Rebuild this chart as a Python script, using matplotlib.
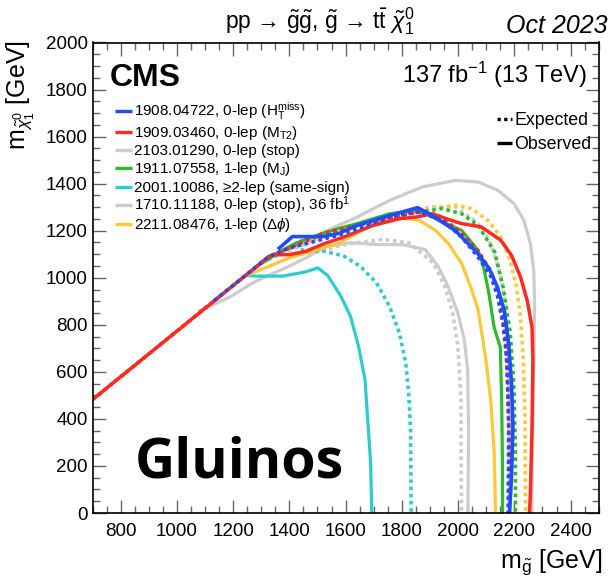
import matplotlib
matplotlib.use("Agg")
import matplotlib.pyplot as plt
from matplotlib.lines import Line2D
from matplotlib.ticker import MultipleLocator

plt.rcParams['font.family'] = ['Liberation Sans', 'DejaVu Sans']
plt.rcParams['mathtext.fontset'] = 'custom'
plt.rcParams['mathtext.rm'] = 'Liberation Sans'
plt.rcParams['mathtext.it'] = 'Liberation Sans:italic'
plt.rcParams['mathtext.bf'] = 'Liberation Sans:bold'
plt.rcParams['mathtext.sf'] = 'Liberation Sans'

# ---------------- data (m_gluino, m_LSP) in GeV ----------------
red_obs_x = [700, 1328, 1352, 1399, 1458, 1524, 1594, 1699, 1792, 1850, 1908, 1960, 2013, 2083, 2152, 2190, 2222, 2246, 2263, 2266, 2263, 2257, 2254]
red_obs_y = [482, 1091, 1098, 1098, 1112, 1145, 1173, 1223, 1251, 1258, 1272, 1250, 1230, 1216, 1159, 1095, 1003, 902, 790, 649, 367, 85, 0]
red_exp_x = [700, 1328, 1399, 1524, 1757, 1870, 1930, 2013, 2071, 2118, 2150, 2168, 2178, 2182, 2182]
red_exp_y = [482, 1091, 1126, 1190, 1255, 1282, 1265, 1190, 1115, 1025, 910, 750, 500, 250, 0]

blue_obs_x = [1364, 1411, 1518, 1577, 1641, 1757, 1856, 1897, 1990, 2071, 2110, 2140, 2164, 2180, 2190, 2195, 2190, 2183]
blue_obs_y = [1126, 1175, 1175, 1189, 1223, 1265, 1298, 1272, 1201, 1102, 1040, 960, 860, 720, 550, 367, 155, 0]
blue_exp_x = [1132, 1328, 1399, 1577, 1757, 1862, 1943, 2013, 2071, 2118, 2141, 2160, 2174, 2180, 2178]
blue_exp_y = [902, 1091, 1126, 1182, 1258, 1280, 1244, 1173, 1088, 1003, 918, 800, 649, 367, 0]

green_obs_x = [1280, 1380, 1423, 1518, 1577, 1641, 1757, 1862, 1908, 2013, 2071, 2090, 2110, 2128, 2150, 2155, 2158, 2158]
green_obs_y = [1045, 1120, 1147, 1189, 1210, 1230, 1272, 1287, 1258, 1201, 1116, 1050, 930, 790, 705, 479, 197, 0]
green_exp_x = [1300, 1450, 1577, 1757, 1873, 1943, 2013, 2071, 2130, 2160, 2185, 2198, 2204, 2204]
green_exp_y = [1064, 1160, 1205, 1268, 1280, 1294, 1272, 1223, 1110, 960, 770, 550, 268, 0]

yellow_obs_x = [1240, 1269, 1328, 1399, 1518, 1577, 1640, 1699, 1792, 1862, 1920, 1966, 2013, 2045, 2070, 2085, 2100, 2116, 2128, 2133]
yellow_obs_y = [1006, 1021, 1049, 1084, 1126, 1147, 1190, 1235, 1255, 1244, 1201, 1145, 1060, 960, 870, 760, 640, 479, 268, 0]
yellow_exp_x = [1300, 1450, 1577, 1757, 1873, 1990, 2048, 2106, 2152, 2185, 2208, 2222, 2232, 2238, 2240]
yellow_exp_y = [1064, 1150, 1200, 1265, 1287, 1308, 1294, 1244, 1173, 1074, 960, 830, 650, 400, 0]

cyan_obs_x = [1250, 1281, 1376, 1458, 1501, 1536, 1583, 1617, 1646, 1669, 1681, 1689, 1693]
cyan_obs_y = [1010, 1007, 1007, 1025, 1042, 1010, 922, 837, 709, 567, 355, 213, 0]
cyan_exp_x = [1440, 1525, 1594, 1652, 1710, 1756, 1791, 1814, 1825, 1831, 1833]
cyan_exp_y = [1118, 1113, 1092, 1049, 978, 879, 766, 638, 496, 355, 0]

gray21_obs_x = [1300, 1450, 1560, 1641, 1757, 1873, 1990, 2071, 2141, 2199, 2234, 2257, 2269, 2272, 2270, 2266, 2262]
gray21_obs_y = [1070, 1150, 1215, 1258, 1329, 1386, 1414, 1407, 1372, 1315, 1244, 1145, 1031, 890, 700, 400, 0]
gray21_exp_x = [1300, 1600, 1800, 1908, 1990, 2059, 2106, 2129, 2152, 2164, 2175, 2182, 2183]
gray21_exp_y = [1065, 1215, 1280, 1301, 1301, 1244, 1173, 1102, 1003, 918, 780, 500, 0]

gray17_obs_x = [1080, 1186, 1281, 1399, 1458, 1536, 1617, 1710, 1802, 1883, 1929, 1964, 1999, 2022, 2034, 2037, 2035]
gray17_obs_y = [860, 916, 986, 1049, 1084, 1134, 1149, 1141, 1141, 1120, 1049, 964, 851, 737, 610, 355, 0]
gray17_exp_x = [1440, 1500, 1594, 1733, 1825, 1912, 1953, 1981, 1999, 2010, 2012]
gray17_exp_y = [1100, 1110, 1141, 1163, 1149, 1063, 964, 851, 709, 496, 0]

legend_labels = [
    "1908.04722, 0-lep ($\\mathrm{H}_{\\mathrm{T}}^{\\mathrm{miss}}$)",
    "1909.03460, 0-lep ($\\mathrm{M}_{\\mathrm{T2}}$)",
    "2103.01290, 0-lep (stop)",
    "1911.07558, 1-lep ($\\mathrm{M}_{\\mathrm{J}}$)",
    "2001.10086, \u22652-lep (same-sign)",
    "1710.11188, 0-lep (stop), 36 fb$^{1}$",
    "2211.08476, 1-lep ($\\Delta\\phi$)",
]

BLUE = '#1f4cff'
RED = '#ff2a1f'
GRAY = '#cccccc'
GREEN = '#2dbb2d'
CYAN = '#2ecccc'
YELLOW = '#ffc73a'
legend_colors = [BLUE, RED, GRAY, GREEN, CYAN, GRAY, YELLOW]

fig = plt.figure(figsize=(6.11, 5.85), dpi=100)
ax = fig.add_axes([92.5/611, 1-513/585, 506.2/611, 470.5/585])

LW = 2.3
DLW = 2.6
dot = dict(linestyle=(0, (1.0, 1.0)), dash_capstyle='butt')

ax.plot(gray21_exp_x, gray21_exp_y, color=GRAY, lw=DLW, **dot)
ax.plot(gray21_obs_x, gray21_obs_y, color=GRAY, lw=LW)
ax.plot(gray17_exp_x, gray17_exp_y, color=GRAY, lw=DLW, **dot)
ax.plot(gray17_obs_x, gray17_obs_y, color=GRAY, lw=LW)
ax.plot(cyan_exp_x, cyan_exp_y, color=CYAN, lw=DLW, **dot)
ax.plot(cyan_obs_x, cyan_obs_y, color=CYAN, lw=LW)
ax.plot(yellow_exp_x, yellow_exp_y, color=YELLOW, lw=DLW, **dot)
ax.plot(yellow_obs_x, yellow_obs_y, color=YELLOW, lw=LW)
ax.plot(green_exp_x, green_exp_y, color=GREEN, lw=DLW, **dot)
ax.plot(green_obs_x, green_obs_y, color=GREEN, lw=LW)
ax.plot(red_obs_x, red_obs_y, color=RED, lw=LW + 0.2)
ax.plot(red_exp_x, red_exp_y, color=RED, lw=DLW, **dot)
ax.plot(blue_obs_x, blue_obs_y, color=BLUE, lw=LW + 0.3)
ax.plot(blue_exp_x, blue_exp_y, color=BLUE, lw=DLW, **dot)

ax.set_xlim(700, 2500)
ax.set_ylim(0, 2000)
ax.xaxis.set_major_locator(MultipleLocator(200))
ax.xaxis.set_minor_locator(MultipleLocator(50))
ax.yaxis.set_major_locator(MultipleLocator(200))
ax.yaxis.set_minor_locator(MultipleLocator(50))
ax.tick_params(which='both', direction='in', top=True, right=True, color='#666666', width=1.0)
ax.tick_params(which='major', length=9.5)
ax.tick_params(which='minor', length=5)
ax.tick_params(axis='x', which='major', labelsize=13.5, pad=7)
ax.tick_params(axis='y', which='major', labelsize=13.5, pad=3.5)
for s in ax.spines.values():
    s.set_linewidth(1.2)
    s.set_color('black')

# legend (manual rows, baseline-aligned)
row_y = [110.5, 131.5, 149.5, 168, 186.5, 205, 223.5]
for lab, col, py in zip(legend_labels, legend_colors, row_y):
    yf = (513 - py) / 470.5
    yb = (513 - py - 5.2) / 470.5
    ax.add_line(Line2D([(115-92.5)/506.2, (132-92.5)/506.2], [yf, yf], transform=ax.transAxes,
                       color=col, lw=2.4, solid_capstyle='butt'))
    ax.text((134-92.5)/506.2, yb, lab, transform=ax.transAxes, fontsize=11.0, va='baseline', ha='left')

for lab, ls, py in [("Expected", (0, (1.0, 1.0)), 119), ("Observed", '-', 143)]:
    yf = (513 - py) / 470.5
    yb = (513 - py - 6.2) / 470.5
    ax.add_line(Line2D([(497-92.5)/506.2, (512-92.5)/506.2], [yf, yf], transform=ax.transAxes,
                       color='black', lw=2.4, linestyle=ls, dash_capstyle='butt', solid_capstyle='butt'))
    ax.text((514-92.5)/506.2, yb, lab, transform=ax.transAxes, fontsize=12.8, va='baseline', ha='left')

ax.text((110-92.5)/506.2, (513-86)/470.5, "CMS", transform=ax.transAxes, fontsize=23,
        fontweight='bold', ha='left', va='baseline')
ax.text((587-92.5)/506.2, (513-83)/470.5, "137 fb$^{-1}$ (13 TeV)", transform=ax.transAxes,
        fontsize=17, ha='right', va='baseline')
ax.text((135-92.5)/506.2, (513-477)/470.5, "Gluinos", transform=ax.transAxes,
        fontsize=40, fontweight='bold', family=['Open Sans', 'DejaVu Sans'], ha='left', va='baseline')

fig.text(320/611, 1-28/585,
         "pp \u2192 $\\tilde{\\mathrm{g}}\\tilde{\\mathrm{g}}$, $\\tilde{\\mathrm{g}}$ \u2192 t$\\bar{\\mathrm{t}}$ $\\tilde{\\chi}^{0}_{1}$",
         fontsize=16.5, ha='center', va='baseline')
fig.text(608/611, 1-33/585, "Oct 2023", fontsize=18, style='italic', ha='right', va='baseline')
fig.text(603/611, 1-568/585, "m$_{\\tilde{\\mathrm{g}}}$ [GeV]", fontsize=18, ha='right', va='baseline')
fig.text(21/611, 1-40/585, "m$_{\\tilde{\\chi}^{0}_{1}}$ [GeV]", fontsize=18, rotation=90,
         ha='center', va='top')

fig.savefig("out.png", dpi=100)
